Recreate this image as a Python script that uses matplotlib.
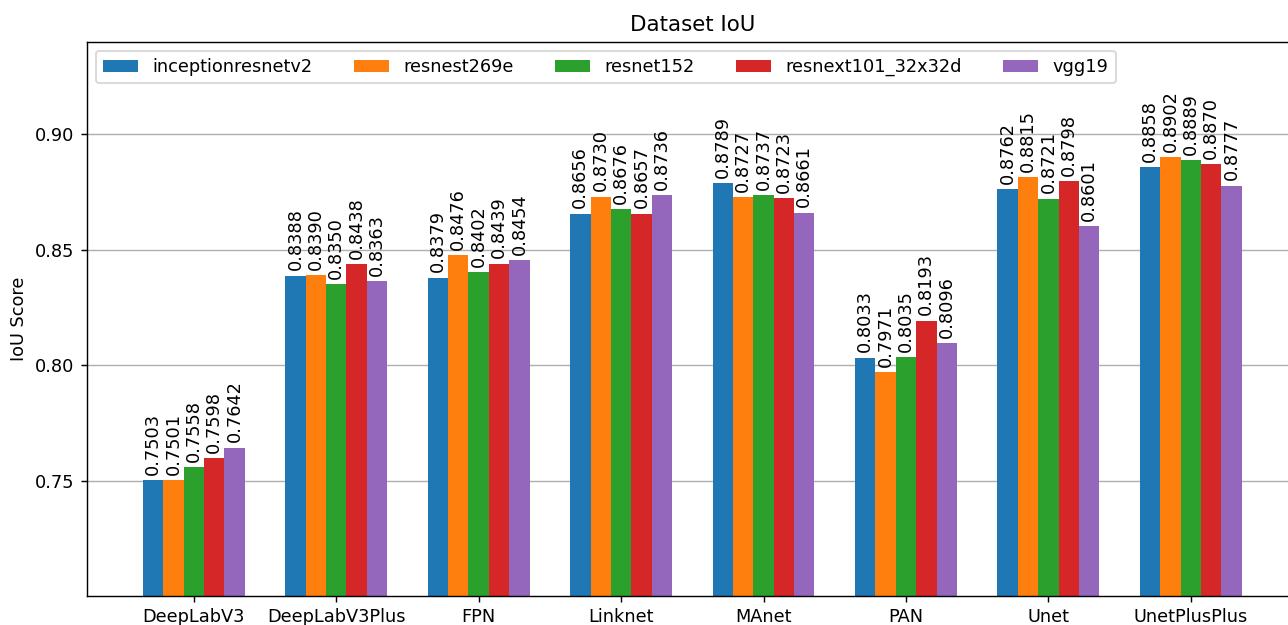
import numpy as np
import matplotlib.pyplot as plt

# IoU per architecture / encoder
models = ['DeepLabV3', 'DeepLabV3Plus', 'FPN', 'Linknet', 'MAnet', 'PAN', 'Unet', 'UnetPlusPlus']
encoders = ['inceptionresnetv2', 'resnest269e', 'resnet152', 'resnext101_32x32d', 'vgg19']

inceptionresnetv2 = [0.7503, 0.8388, 0.8379, 0.8656, 0.8789, 0.8033, 0.8762, 0.8858]
resnest269e = [0.7501, 0.8390, 0.8476, 0.8730, 0.8727, 0.7971, 0.8815, 0.8902]
resnet152 = [0.7558, 0.8350, 0.8402, 0.8676, 0.8737, 0.8035, 0.8721, 0.8889]
resnext101_32x32d = [0.7598, 0.8438, 0.8439, 0.8657, 0.8723, 0.8193, 0.8798, 0.8870]
vgg19 = [0.7642, 0.8363, 0.8454, 0.8736, 0.8661, 0.8096, 0.8601, 0.8777]

scores = [inceptionresnetv2, resnest269e, resnet152, resnext101_32x32d, vgg19]

fig = plt.figure(figsize=(1288 / 128, 625 / 128), dpi=128)
ax = fig.add_axes([0.0675, 0.0464, 0.94, 0.8864])

x = np.arange(len(models))
w = 0.143
for i, (name, vals) in enumerate(zip(encoders, scores)):
    bars = ax.bar(x + (i - 2) * w, vals, w, label=name)
    ax.bar_label(bars, fmt='%.4f', rotation=90, padding=3)

ax.set_xticks(x)
ax.set_xticklabels(models)
ax.set_ylim(0.70, 0.94)
ax.set_xlim(-0.75, 7.75)
ax.set_yticks([0.75, 0.80, 0.85, 0.90])
ax.set_ylabel('IoU Score')
ax.set_title('Dataset IoU')
ax.set_axisbelow(True)
ax.yaxis.grid(True)
ax.legend(loc='upper left', ncol=5, columnspacing=2.3)

fig.savefig('out.png', dpi=128)
